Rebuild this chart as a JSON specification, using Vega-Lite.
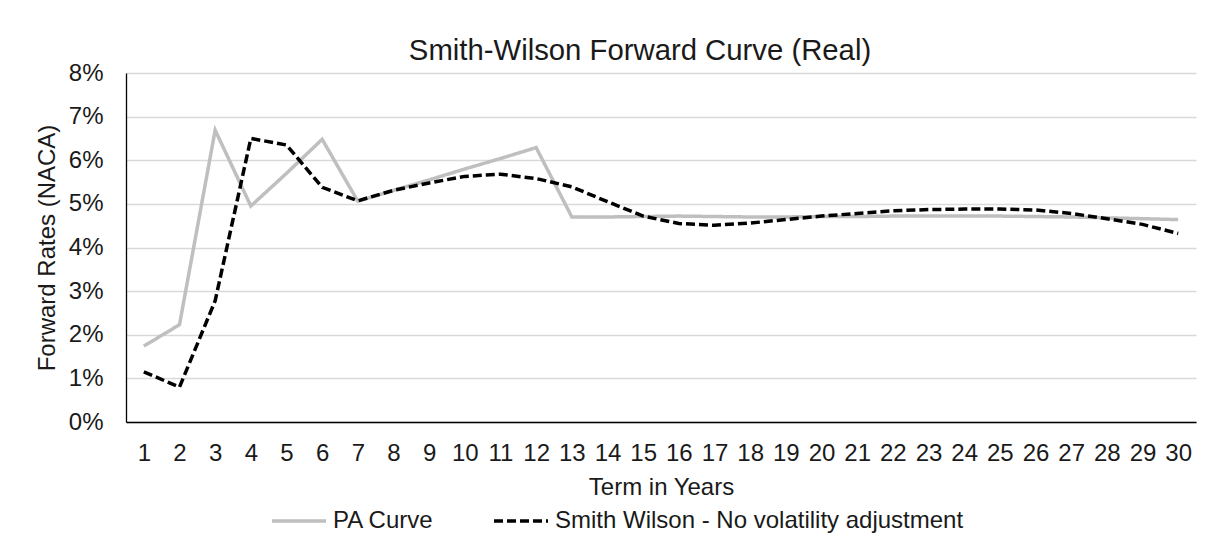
{
  "$schema": "https://vega.github.io/schema/vega-lite/v6.json",
  "width": 1070,
  "height": 349,
  "autosize": {"type": "none"},
  "padding": {"left": 126, "top": 73, "right": 9, "bottom": 122},
  "background": "white",
  "title": {
    "text": "Smith-Wilson Forward Curve (Real)",
    "font": "Liberation Sans",
    "fontSize": 29.3,
    "fontWeight": "normal",
    "color": "#1a1a1a",
    "anchor": "middle",
    "dx": -21,
    "dy": 10,
    "offset": 5
  },
  "data": {
    "values": [
      {"term": 1, "series": "PA Curve", "rate": 0.0174},
      {"term": 2, "series": "PA Curve", "rate": 0.0223},
      {"term": 3, "series": "PA Curve", "rate": 0.0669},
      {"term": 4, "series": "PA Curve", "rate": 0.0495},
      {"term": 5, "series": "PA Curve", "rate": 0.0570},
      {"term": 6, "series": "PA Curve", "rate": 0.0648},
      {"term": 7, "series": "PA Curve", "rate": 0.0506},
      {"term": 8, "series": "PA Curve", "rate": 0.0531},
      {"term": 9, "series": "PA Curve", "rate": 0.0555},
      {"term": 10, "series": "PA Curve", "rate": 0.0580},
      {"term": 11, "series": "PA Curve", "rate": 0.0604},
      {"term": 12, "series": "PA Curve", "rate": 0.0629},
      {"term": 13, "series": "PA Curve", "rate": 0.0470},
      {"term": 14, "series": "PA Curve", "rate": 0.0470},
      {"term": 15, "series": "PA Curve", "rate": 0.0471},
      {"term": 16, "series": "PA Curve", "rate": 0.0472},
      {"term": 17, "series": "PA Curve", "rate": 0.0471},
      {"term": 18, "series": "PA Curve", "rate": 0.0470},
      {"term": 19, "series": "PA Curve", "rate": 0.0470},
      {"term": 20, "series": "PA Curve", "rate": 0.0471},
      {"term": 21, "series": "PA Curve", "rate": 0.0471},
      {"term": 22, "series": "PA Curve", "rate": 0.0472},
      {"term": 23, "series": "PA Curve", "rate": 0.0472},
      {"term": 24, "series": "PA Curve", "rate": 0.0472},
      {"term": 25, "series": "PA Curve", "rate": 0.0472},
      {"term": 26, "series": "PA Curve", "rate": 0.0471},
      {"term": 27, "series": "PA Curve", "rate": 0.0470},
      {"term": 28, "series": "PA Curve", "rate": 0.0468},
      {"term": 29, "series": "PA Curve", "rate": 0.0466},
      {"term": 30, "series": "PA Curve", "rate": 0.0464},
      {"term": 1, "series": "Smith Wilson - No volatility adjustment", "rate": 0.0115},
      {"term": 2, "series": "Smith Wilson - No volatility adjustment", "rate": 0.0080},
      {"term": 3, "series": "Smith Wilson - No volatility adjustment", "rate": 0.0278},
      {"term": 4, "series": "Smith Wilson - No volatility adjustment", "rate": 0.0650},
      {"term": 5, "series": "Smith Wilson - No volatility adjustment", "rate": 0.0635},
      {"term": 6, "series": "Smith Wilson - No volatility adjustment", "rate": 0.0538},
      {"term": 7, "series": "Smith Wilson - No volatility adjustment", "rate": 0.0507},
      {"term": 8, "series": "Smith Wilson - No volatility adjustment", "rate": 0.0531},
      {"term": 9, "series": "Smith Wilson - No volatility adjustment", "rate": 0.0548},
      {"term": 10, "series": "Smith Wilson - No volatility adjustment", "rate": 0.0563},
      {"term": 11, "series": "Smith Wilson - No volatility adjustment", "rate": 0.0568},
      {"term": 12, "series": "Smith Wilson - No volatility adjustment", "rate": 0.0558},
      {"term": 13, "series": "Smith Wilson - No volatility adjustment", "rate": 0.0539},
      {"term": 14, "series": "Smith Wilson - No volatility adjustment", "rate": 0.0505},
      {"term": 15, "series": "Smith Wilson - No volatility adjustment", "rate": 0.0472},
      {"term": 16, "series": "Smith Wilson - No volatility adjustment", "rate": 0.0455},
      {"term": 17, "series": "Smith Wilson - No volatility adjustment", "rate": 0.0451},
      {"term": 18, "series": "Smith Wilson - No volatility adjustment", "rate": 0.0456},
      {"term": 19, "series": "Smith Wilson - No volatility adjustment", "rate": 0.0464},
      {"term": 20, "series": "Smith Wilson - No volatility adjustment", "rate": 0.0472},
      {"term": 21, "series": "Smith Wilson - No volatility adjustment", "rate": 0.0478},
      {"term": 22, "series": "Smith Wilson - No volatility adjustment", "rate": 0.0484},
      {"term": 23, "series": "Smith Wilson - No volatility adjustment", "rate": 0.0487},
      {"term": 24, "series": "Smith Wilson - No volatility adjustment", "rate": 0.0488},
      {"term": 25, "series": "Smith Wilson - No volatility adjustment", "rate": 0.0488},
      {"term": 26, "series": "Smith Wilson - No volatility adjustment", "rate": 0.0486},
      {"term": 27, "series": "Smith Wilson - No volatility adjustment", "rate": 0.0478},
      {"term": 28, "series": "Smith Wilson - No volatility adjustment", "rate": 0.0466},
      {"term": 29, "series": "Smith Wilson - No volatility adjustment", "rate": 0.0453},
      {"term": 30, "series": "Smith Wilson - No volatility adjustment", "rate": 0.0432}
    ]
  },
  "mark": {"type": "line", "strokeWidth": 3.5, "strokeJoin": "miter"},
  "encoding": {
    "x": {
      "field": "term",
      "type": "ordinal",
      "scale": {"type": "point", "padding": 0.5},
      "axis": {
        "title": "Term in Years",
        "labelAngle": 0,
        "ticks": false,
        "grid": false,
        "domainColor": "#000000",
        "domainWidth": 1.3,
        "labelPadding": 19,
        "titlePadding": 10
      }
    },
    "y": {
      "field": "rate",
      "type": "quantitative",
      "scale": {"domain": [0, 0.08], "nice": false},
      "axis": {
        "title": "Forward Rates (NACA)",
        "format": ".0%",
        "values": [0, 0.01, 0.02, 0.03, 0.04, 0.05, 0.06, 0.07, 0.08],
        "ticks": false,
        "grid": true,
        "gridColor": "#d9d9d9",
        "gridWidth": 1.3,
        "domainColor": "#000000",
        "domainWidth": 1.3,
        "labelPadding": 23,
        "titlePadding": 9
      }
    },
    "color": {
      "field": "series",
      "type": "nominal",
      "scale": {"range": ["#bfbfbf", "#000000"]},
      "legend": {
        "orient": "none",
        "legendX": 144,
        "legendY": 419,
        "direction": "horizontal",
        "title": null
      }
    },
    "strokeDash": {
      "field": "series",
      "type": "nominal",
      "scale": {"range": [[1, 0], [9, 4]]},
      "legend": {
        "orient": "none",
        "legendX": 144,
        "legendY": 419,
        "direction": "horizontal",
        "title": null
      }
    }
  },
  "config": {
    "view": {"stroke": null},
    "font": "Liberation Sans",
    "axis": {
      "labelFont": "Liberation Sans",
      "labelFontSize": 24,
      "labelColor": "#1a1a1a",
      "titleFont": "Liberation Sans",
      "titleFontSize": 24,
      "titleFontWeight": "normal",
      "titleColor": "#1a1a1a"
    },
    "legend": {
      "symbolType": "stroke",
      "symbolSize": 2916,
      "symbolStrokeWidth": 3.5,
      "labelFont": "Liberation Sans",
      "labelFontSize": 24,
      "labelColor": "#1a1a1a",
      "labelOffset": 5,
      "labelLimit": 1000,
      "columnPadding": 53
    }
  }
}
